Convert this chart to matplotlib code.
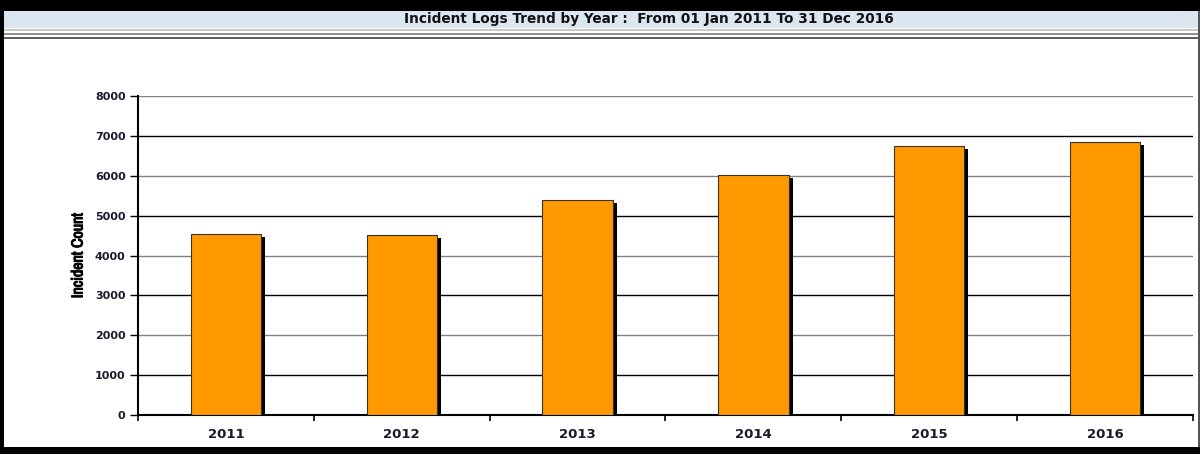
import matplotlib.pyplot as plt
from matplotlib.patches import Rectangle
from matplotlib.transforms import ScaledTranslation
from matplotlib import font_manager, patheffects

years = ['2011', '2012', '2013', '2014', '2015', '2016']
counts = [4550, 4520, 5390, 6020, 6750, 6850]
y_ticks = [0, 1000, 2000, 3000, 4000, 5000, 6000, 7000, 8000]

W, H = 1200, 454
fig = plt.figure(figsize=(12, 4.54), dpi=100)
fig.patch.set_facecolor('white')

# narrow face for the axis title, if one is installed
narrow = sorted(set(f.name for f in font_manager.fontManager.ttflist
                    if 'Narrow' in f.name or 'Condensed' in f.name))
narrow_family = narrow[0] if narrow else 'DejaVu Sans'


def px_rect(x0, y0, x1, y1, color):
    # rectangle given in pixel coords (top-left origin)
    fig.add_artist(Rectangle((x0 / W, 1 - y1 / H), (x1 - x0) / W, (y1 - y0) / H,
                             transform=fig.transFigure, facecolor=color,
                             edgecolor='none', zorder=0))


# frame and title band
px_rect(0, 0, W, 11, 'black')
px_rect(0, 11, W, 28, '#dce6f1')
px_rect(0, 29, W, 31, '#c8c8c8')
px_rect(0, 33, W, 35, '#909090')
px_rect(0, 37, W, 39, '#606060')
px_rect(0, 0, 4, H, 'black')
px_rect(0, 447, W, H, 'black')
px_rect(1198, 11, 1200, 447, '#555555')

fig.text(649 / W, 1 - 19.5 / H, 'Incident Logs Trend by Year :  From 01 Jan 2011 To 31 Dec 2016',
         ha='center', va='center', fontsize=9.8, fontweight='bold',
         family='DejaVu Sans', color='#111111')

ax = fig.add_axes([138 / W, 1 - 415 / H, (1193 - 138) / W, (415 - 96) / H])
ax.set_facecolor('none')

x = list(range(len(years)))
shadow = ax.transData + ScaledTranslation(4 / 100, -3 / 100, fig.dpi_scale_trans)
ax.bar(x, counts, width=0.4, color='black', transform=shadow, zorder=2)
ax.bar(x, counts, width=0.4, color='#ff9900', edgecolor='#333333', linewidth=0.8, zorder=3)

for v in y_ticks[1:]:
    ax.axhline(v, color='#808080' if (v // 1000) % 2 == 0 else 'black', linewidth=1.0, zorder=1)

ax.set_xlim(-0.5, len(years) - 0.5)
ax.set_ylim(0, 8000)
ax.set_yticks(y_ticks)
ax.set_xticks(x)
ax.set_xticklabels(years)
ax.set_xticks([i + 0.5 for i in range(-1, len(years))], minor=True)
ax.tick_params(axis='x', which='major', length=0, pad=9, labelsize=9.5)
ax.tick_params(axis='x', which='minor', length=4, width=1.2)
ax.tick_params(axis='y', length=6, width=1.0, labelsize=8, pad=3)
for lab in ax.get_xticklabels() + ax.get_yticklabels():
    lab.set_fontweight('bold')
    lab.set_family('DejaVu Sans')
    lab.set_color('#1a1a2a')

for s in ['top', 'right']:
    ax.spines[s].set_visible(False)
ax.spines['left'].set_linewidth(1.5)
ax.spines['bottom'].set_linewidth(1.5)

ax.set_ylabel('Incident Count', fontsize=11.5, fontweight='bold',
              family=[narrow_family, 'DejaVu Sans'], stretch='condensed')
ax.yaxis.label.set_va('center')
ax.yaxis.set_label_coords(-0.0569, 0.5)
ax.yaxis.label.set_path_effects([patheffects.withStroke(linewidth=0.8, foreground='black')])

fig.savefig('out.png', dpi=100)
